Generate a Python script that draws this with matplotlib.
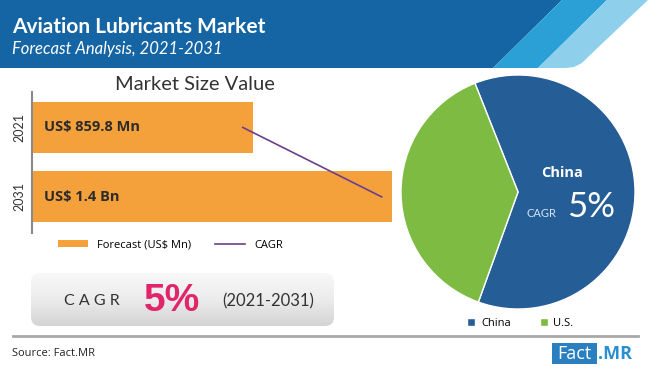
import numpy as np
import matplotlib
matplotlib.use("Agg")
import matplotlib.pyplot as plt
from matplotlib.patches import Polygon, FancyBboxPatch

# data
years = ["2021", "2031"]
market_value = [859.8, 1400.0]          # US$ Mn
value_labels = ["US$ 859.8 Mn", "US$ 1.4 Bn"]
regions = ["China", "U.S."]
region_share = [61.5, 38.5]

orange = "#f5a13b"
purple = "#6a3d8e"
pie_blue = "#255d96"
pie_green = "#7dbb42"

W, H = 650, 368
fig = plt.figure(figsize=(W / 100, H / 100), dpi=100)
fig.patch.set_facecolor("white")

# background axes in pixel coordinates for the decorations
bg = fig.add_axes([0, 0, 1, 1])
bg.set_xlim(0, W)
bg.set_ylim(H, 0)
bg.axis("off")

# header band
bg.add_patch(Polygon([(0, 0), (562, 0), (493, 68), (0, 68)], closed=True, color="#1565a5", lw=0))
bg.add_patch(Polygon([(562, 0), (607, 0), (538, 68), (493, 68)], closed=True, color="#2ba0d7", lw=0))
bg.add_patch(Polygon([(607, 0), (648, 0), (588, 57), (582, 63), (574, 67), (566, 68), (538, 68)],
                     closed=True, color="#8ed0ec", lw=0))
bg.text(12, 27, "Aviation Lubricants Market", color="white", fontsize=15, fontweight="bold",
        family="Lato", va="center", ha="left")
bg.text(12, 49, "Forecast Analysis, 2021-2031", color="white", fontsize=12, style="italic",
        family="Lato", va="center", ha="left")

bg.text(195, 84, "Market Size Value", color="#333333", fontsize=14.5, family="Lato",
        ha="center", va="center")

# CAGR box with gradient
box = FancyBboxPatch((31, 273), 303, 53, boxstyle="round,pad=0,rounding_size=9",
                     fc="none", ec="none")
bg.add_patch(box)
grad = np.linspace(0, 1, 100).reshape(-1, 1)
im = bg.imshow(grad, extent=[31, 334, 326, 273], cmap=matplotlib.colors.LinearSegmentedColormap.from_list(
    "g", ["#f8f8f8", "#ececec", "#d4d4d4"]), aspect="auto", origin="upper", zorder=1)
im.set_clip_path(box)
bg.set_xlim(0, W)
bg.set_ylim(H, 0)
bg.text(92, 301, "C A G R", color="#333333", fontsize=11.5, family="Lato", ha="center", va="center", zorder=2)
bg.text(172, 301, "5%", color="#e0256a", fontsize=28, fontweight="bold", family="Liberation Sans",
        ha="center", va="center", zorder=2)
bg.text(268, 301, "(2021-2031)", color="#333333", fontsize=12, family="Lato", ha="center", va="center", zorder=2)

# separator and source
bg.plot([13, 638], [336, 336], color="#a8a8a8", lw=2)
bg.text(12, 354, "Source: Fact.MR", color="#222222", fontsize=8, family="Open Sans", va="center")

# Fact.MR logo
bg.add_patch(FancyBboxPatch((552, 343), 45, 21, boxstyle="square,pad=0", fc="#2a7fc0", ec="none"))
bg.text(574.5, 354, "Fact", color="white", fontsize=13, family="Open Sans", ha="center", va="center")
bg.text(598, 354, ".MR", color="#2a8fd0", fontsize=13, fontweight="bold", family="Open Sans",
        ha="left", va="center")

# bar chart
ax = fig.add_axes([32 / W, 1 - 233 / H, 360 / W, 141 / H])
ax.set_facecolor("none")
ypos = np.arange(len(years))
bars = ax.barh(ypos, market_value, height=0.735, color=orange, label="Forecast (US$ Mn)")
line, = ax.plot([v - 40 for v in market_value], ypos, color=purple, lw=1.2, label="CAGR")
ax.set_xlim(0, 1400)
ax.set_ylim(1.52, -0.51)
ax.set_yticks(ypos)
ax.set_yticklabels(years, rotation=90, va="center", fontsize=9, color="#333333", family="Lato")
ax.tick_params(axis="y", length=0, pad=5)
ax.set_xticks([])
for s in ["top", "right", "bottom"]:
    ax.spines[s].set_visible(False)
ax.spines["left"].set_color("#8a8a8a")
ax.spines["left"].set_linewidth(1.5)
for yy, lab in zip(ypos, value_labels):
    ax.text(45, yy, lab, color="#2b2b2b", fontsize=10.5, fontweight="bold", family="Open Sans",
            va="center", ha="left")

fig.legend([bars, line], ["Forecast (US$ Mn)", "CAGR"], loc="center left",
           bbox_to_anchor=(48 / W, 1 - 245 / H), ncol=2, frameon=False,
           prop={"family": "Open Sans", "size": 8}, handlelength=2.7, handleheight=0.6,
           handletextpad=0.8, columnspacing=2.2)

# pie chart
cx, cy, r = 518, 192, 117
pax = fig.add_axes([(cx - r) / W, 1 - (cy + r) / H, 2 * r / W, 2 * r / H])
wedges, _ = pax.pie(region_share, colors=[pie_blue, pie_green], startangle=111.6, counterclock=False,
                    wedgeprops={"edgecolor": "white", "linewidth": 1})
pax.set_xlim(-1, 1)
pax.set_ylim(-1, 1)
pax.text(0.38, 0.16, "China", color="white", fontsize=10.5, fontweight="bold", family="Open Sans",
         ha="center", va="center")
pax.text(0.2, -0.21, "CAGR", color="#d5e3f2", fontsize=8, family="Lato", ha="center", va="baseline")
pax.text(0.62, -0.21, "5%", color="white", fontsize=25, fontweight="normal", family="Lato",
         ha="center", va="baseline")

fig.legend(wedges, regions, loc="center left", bbox_to_anchor=(457 / W, 1 - 323 / H), ncol=2,
           frameon=False, prop={"family": "Open Sans", "size": 8}, handlelength=0.75,
           handleheight=0.75, handletextpad=0.5, columnspacing=2.6)

fig.savefig("out.png", dpi=100)
